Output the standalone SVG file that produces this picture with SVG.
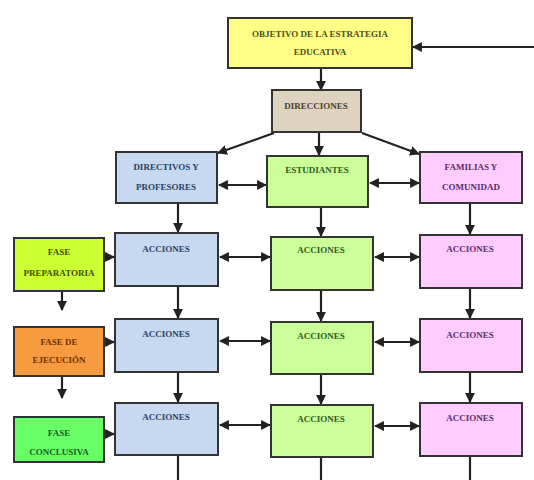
<svg xmlns="http://www.w3.org/2000/svg" width="534" height="480" viewBox="0 0 534 480">
<defs>
<marker id="ah" viewBox="0 0 10 10" refX="9" refY="5" markerWidth="4.5" markerHeight="4.5" orient="auto-start-reverse" markerUnits="strokeWidth">
<path d="M0,0 L10,5 L0,10 Z" fill="#222"/>
</marker>
<style>
.box{stroke:#333;stroke-width:2}
.t{font-family:"Liberation Serif","Times New Roman",serif;font-weight:bold;font-size:9px;text-anchor:middle}
.c{stroke:#222;stroke-width:2.2;fill:none}
.a{marker-end:url(#ah)}
.d{marker-start:url(#ah);marker-end:url(#ah)}
.blue{fill:#C6D9F1}.green{fill:#CCFF99}.pink{fill:#FFCCFF}
.tb{fill:#2E3F63}.tg{fill:#2F5A1E}.tp{fill:#5A2D6A}
</style>
</defs>
<rect width="534" height="480" fill="#fff"/>
<g id="connectors">
<line class="c a" x1="534" y1="47" x2="413" y2="47"/>
<line class="c a" x1="321" y1="68" x2="321" y2="90"/>
<line class="c a" x1="274" y1="133" x2="218" y2="153"/>
<line class="c a" x1="319" y1="132" x2="319" y2="155"/>
<line class="c a" x1="362" y1="133" x2="419" y2="154"/>
<line class="c d" x1="219" y1="185" x2="266" y2="185"/>
<line class="c d" x1="370" y1="183" x2="419" y2="183"/>
<line class="c a" x1="178" y1="203" x2="178" y2="232"/>
<line class="c a" x1="321" y1="207" x2="321" y2="236"/>
<line class="c a" x1="470" y1="203" x2="470" y2="234"/>
<line class="c a" x1="104" y1="257" x2="114" y2="257"/>
<line class="c d" x1="220" y1="257" x2="270" y2="257"/>
<line class="c d" x1="375" y1="257" x2="419" y2="257"/>
<line class="c a" x1="62" y1="291" x2="62" y2="310"/>
<line class="c a" x1="178" y1="286" x2="178" y2="318"/>
<line class="c a" x1="321" y1="290" x2="321" y2="321"/>
<line class="c a" x1="470" y1="288" x2="470" y2="318"/>
<line class="c a" x1="104" y1="342" x2="114" y2="342"/>
<line class="c d" x1="220" y1="341" x2="270" y2="341"/>
<line class="c d" x1="375" y1="342" x2="419" y2="342"/>
<line class="c a" x1="62" y1="376" x2="62" y2="398"/>
<line class="c a" x1="178" y1="372" x2="178" y2="402"/>
<line class="c a" x1="321" y1="374" x2="321" y2="404"/>
<line class="c a" x1="470" y1="372" x2="470" y2="402"/>
<line class="c a" x1="104" y1="434" x2="114" y2="434"/>
<line class="c d" x1="220" y1="425" x2="270" y2="425"/>
<line class="c d" x1="375" y1="426" x2="419" y2="426"/>
<line class="c" x1="178" y1="455" x2="178" y2="480"/>
<line class="c" x1="321" y1="457" x2="321" y2="480"/>
<line class="c" x1="470" y1="456" x2="470" y2="480"/>
</g>
<g id="objetivo">
<rect class="box" x="228" y="18" width="184" height="50" fill="#FFFF88"/>
<text class="t" x="320" y="37" fill="#4D4D1A">OBJETIVO DE LA ESTRATEGIA</text>
<text class="t" x="320" y="55" fill="#4D4D1A">EDUCATIVA</text>
</g>
<g id="direcciones">
<rect class="box" x="272" y="90" width="89" height="42" fill="#DDD3BE"/>
<text class="t" x="316" y="109" fill="#4A3F2F">DIRECCIONES</text>
</g>
<g id="directivos">
<rect class="box blue" x="116" y="152" width="101" height="51"/>
<text class="t tb" x="166" y="170">DIRECTIVOS Y</text>
<text class="t tb" x="166" y="190">PROFESORES</text>
</g>
<g id="estudiantes">
<rect class="box green" x="267" y="156" width="101" height="51"/>
<text class="t tg" x="317" y="173">ESTUDIANTES</text>
</g>
<g id="familias">
<rect class="box pink" x="420" y="152" width="102" height="51"/>
<text class="t tp" x="471" y="170">FAMILIAS Y</text>
<text class="t tp" x="471" y="190">COMUNIDAD</text>
</g>
<g id="fase-preparatoria">
<rect class="box" x="14" y="238" width="90" height="53" fill="#CCFF33"/>
<text class="t" x="59" y="255" fill="#3F4F10">FASE</text>
<text class="t" x="59" y="276" fill="#3F4F10">PREPARATORIA</text>
</g>
<g id="fase-ejecucion">
<rect class="box" x="14" y="327" width="90" height="49" fill="#F79A40"/>
<text class="t" x="59" y="345" fill="#6B3300">FASE DE</text>
<text class="t" x="59" y="363" fill="#6B3300">EJECUCIÓN</text>
</g>
<g id="fase-conclusiva">
<rect class="box" x="14" y="417" width="90" height="45" fill="#66FF66"/>
<text class="t" x="59" y="436" fill="#1F5A1F">FASE</text>
<text class="t" x="59" y="455" fill="#1F5A1F">CONCLUSIVA</text>
</g>
<g id="acciones-b1"><rect class="box blue" x="115" y="233" width="103" height="53"/><text class="t tb" x="166" y="252">ACCIONES</text></g>
<g id="acciones-g1"><rect class="box green" x="271" y="237" width="102" height="53"/><text class="t tg" x="321" y="253">ACCIONES</text></g>
<g id="acciones-p1"><rect class="box pink" x="420" y="235" width="102" height="53"/><text class="t tp" x="470" y="252">ACCIONES</text></g>
<g id="acciones-b2"><rect class="box blue" x="115" y="319" width="103" height="53"/><text class="t tb" x="166" y="337">ACCIONES</text></g>
<g id="acciones-g2"><rect class="box green" x="271" y="322" width="102" height="52"/><text class="t tg" x="321" y="339">ACCIONES</text></g>
<g id="acciones-p2"><rect class="box pink" x="420" y="319" width="102" height="53"/><text class="t tp" x="470" y="338">ACCIONES</text></g>
<g id="acciones-b3"><rect class="box blue" x="115" y="403" width="103" height="52"/><text class="t tb" x="166" y="420">ACCIONES</text></g>
<g id="acciones-g3"><rect class="box green" x="271" y="405" width="102" height="52"/><text class="t tg" x="321" y="422">ACCIONES</text></g>
<g id="acciones-p3"><rect class="box pink" x="420" y="403" width="102" height="53"/><text class="t tp" x="470" y="421">ACCIONES</text></g>
</svg>
